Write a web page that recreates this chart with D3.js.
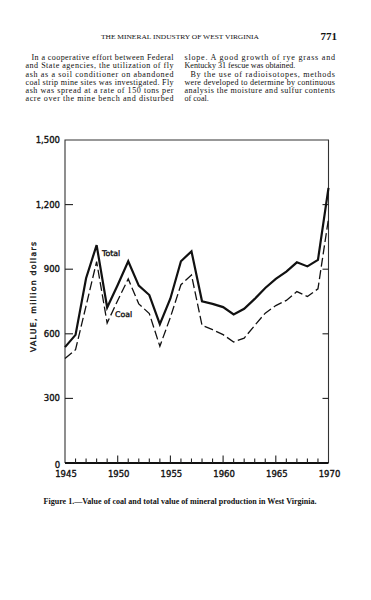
<!DOCTYPE html>
<html>
<head>
<meta charset="utf-8">
<script src="https://cdn.jsdelivr.net/npm/d3@7"></script>
<style>
  body { margin: 0; background: #fff; }
  svg { display: block; }
  .serif { font-family: "Liberation Serif", "DejaVu Serif", serif; fill: #111; }
  .lab { font-family: "DejaVu Sans", sans-serif; fill: #111; stroke: #111; stroke-width: 0.35; }
</style>
</head>
<body>
<div id="page"></div>
<script>
// values (million dollars)
const years = [1945, 1946, 1947, 1948, 1949, 1950, 1951, 1952, 1953, 1954, 1955, 1956, 1957,
               1958, 1959, 1960, 1961, 1962, 1963, 1964, 1965, 1966, 1967, 1968, 1969, 1970];
const total = [538, 595, 858, 1012, 722, 827, 937, 824, 780, 645, 764, 937, 983,
               751, 739, 724, 690, 716, 762, 813, 855, 889, 932, 913, 943, 1278];
const coal  = [485, 526, 730, 935, 650, 755, 855, 739, 694, 542, 677, 828, 873,
               639, 619, 596, 562, 580, 639, 696, 731, 755, 796, 773, 809, 1135];
const yTicks = [0, 300, 600, 900, 1200, 1500];
const xLabels = [1945, 1950, 1955, 1960, 1965, 1970];

const leftCol = [
  "In a cooperative effort between Federal",
  "and State agencies, the utilization of fly",
  "ash as a soil conditioner on abandoned",
  "coal strip mine sites was investigated. Fly",
  "ash was spread at a rate of 150 tons per",
  "acre over the mine bench and disturbed"
];
const rightCol = [
  "slope. A good growth of rye grass and",
  "Kentucky 31 fescue was obtained.",
  "By the use of radioisotopes, methods",
  "were developed to determine by continuous",
  "analysis the moisture and sulfur contents",
  "of coal."
];

const W = 371, H = 600;
const svg = d3.select('#page').append('svg').attr('width', W).attr('height', H);

// page header
svg.append('text').attr('class', 'serif').attr('x', 101).attr('y', 38.5)
  .attr('font-size', 6.8).attr('textLength', 158).attr('lengthAdjust', 'spacingAndGlyphs')
  .text("THE MINERAL INDUSTRY OF WEST VIRGINIA");
svg.append('text').attr('class', 'serif').attr('x', 337).attr('y', 39.5)
  .attr('font-size', 11).attr('font-weight', 'bold').attr('text-anchor', 'end').text("771");

// two text columns, justified with textLength
function column(lines, x0, x1, indents, ragged) {
  lines.forEach(function(t, i) {
    const xs = x0 + (indents.includes(i) ? 6 : 0);
    const el = svg.append('text').attr('class', 'serif').attr('x', xs).attr('y', 60.2 + i * 8.2)
      .attr('font-size', 8.1).text(t);
    if (!ragged.includes(i)) el.attr('textLength', x1 - xs).attr('lengthAdjust', 'spacing');
  });
}
column(leftCol, 25.5, 173.5, [0], []);
column(rightCol, 184.5, 335, [2], [1, 5]);

// chart
const x = d3.scaleLinear().domain([1945, 1970]).range([65, 328.5]);
const y = d3.scaleLinear().domain([0, 1500]).range([463, 140]);

// frame
svg.append('path').attr('fill', 'none').attr('stroke', '#333').attr('stroke-width', 1.1)
  .attr('d', `M${x(1945)},${y(0)}V${y(1500)}H${x(1970)}V${y(0)}`);
svg.append('line').attr('x1', x(1945)).attr('x2', x(1970)).attr('y1', y(0)).attr('y2', y(0))
  .attr('stroke', '#111').attr('stroke-width', 2);

// y ticks (inside, both sides)
const yIn = yTicks.filter(d => d > 0 && d < 1500);
svg.append('g').selectAll('line.l').data(yIn).enter().append('line')
  .attr('x1', x(1945)).attr('x2', x(1945) + 8).attr('y1', d => y(d)).attr('y2', d => y(d))
  .attr('stroke', '#222').attr('stroke-width', 1.1);
svg.append('g').selectAll('line.r').data(yIn).enter().append('line')
  .attr('x1', x(1970)).attr('x2', x(1970) - 6).attr('y1', d => y(d)).attr('y2', d => y(d))
  .attr('stroke', '#222').attr('stroke-width', 1.1);
svg.append('g').selectAll('text').data(yTicks.filter(d => d > 0)).enter().append('text')
  .attr('class', 'lab').attr('x', x(1945) - 5).attr('y', d => y(d) + 3)
  .attr('text-anchor', 'end').attr('font-size', 8.5)
  .text(d => d3.format(',')(d));
svg.append('text').attr('class', 'lab').attr('x', 57.5).attr('y', 467.5)
  .attr('text-anchor', 'middle').attr('font-size', 8.5).text('0');

// x ticks (inside, one per year)
svg.append('g').selectAll('line').data(years.slice(1, -1)).enter().append('line')
  .attr('x1', d => x(d)).attr('x2', d => x(d)).attr('y1', y(0))
  .attr('y2', d => y(0) - (d % 5 === 0 ? 7.5 : 4.5))
  .attr('stroke', '#222').attr('stroke-width', 1.1);
svg.append('g').selectAll('text').data(xLabels).enter().append('text')
  .attr('class', 'lab').attr('x', d => x(d) + 1).attr('y', 476.5)
  .attr('text-anchor', 'middle').attr('font-size', 8.5).text(d => d);

// axis title
svg.append('text').attr('class', 'lab').attr('transform', 'translate(36,297) rotate(-90)')
  .attr('text-anchor', 'middle').attr('font-size', 7.8)
  .attr('textLength', 110).attr('lengthAdjust', 'spacing').text('VALUE, million dollars');

// series
const line = d3.line().x((d, i) => x(years[i])).y(d => y(d));
svg.append('path').datum(coal).attr('d', line).attr('fill', 'none')
  .attr('stroke', '#111').attr('stroke-width', 1.3).attr('stroke-dasharray', '9,3.5');
svg.append('path').datum(total).attr('d', line).attr('fill', 'none')
  .attr('stroke', '#111').attr('stroke-width', 2.2).attr('stroke-linejoin', 'miter');

// series labels
svg.append('text').attr('class', 'lab').attr('x', 102).attr('y', 256)
  .attr('font-size', 7.8).text('Total');
svg.append('text').attr('class', 'lab').attr('x', 115).attr('y', 316.5)
  .attr('font-size', 7.8).text('Coal');

// caption
svg.append('text').attr('class', 'serif').attr('x', 43.5).attr('y', 503.5)
  .attr('font-size', 7.3).attr('font-weight', 'bold')
  .attr('textLength', 273).attr('lengthAdjust', 'spacingAndGlyphs')
  .text("Figure 1.\u2014Value of coal and total value of mineral production in West Virginia.");
</script>
</body>
</html>
